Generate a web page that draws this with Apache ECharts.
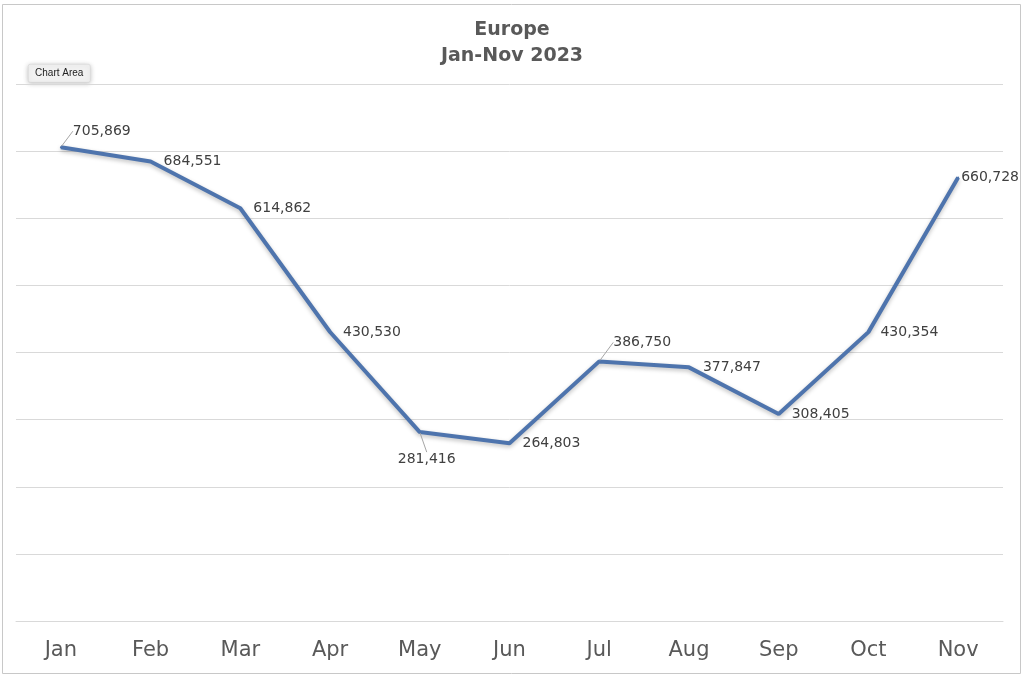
<!DOCTYPE html>
<html>
<head>
<meta charset="utf-8">
<script src="https://cdn.jsdelivr.net/npm/echarts@6/dist/echarts.min.js"></script>
<style>
html,body{margin:0;padding:0;background:#fff;}
#c{width:1024px;height:679px;}
</style>
</head>
<body>
<div id="c"></div>
<script>
const titleLines = ['Europe', 'Jan-Nov 2023'];
const months = ['Jan','Feb','Mar','Apr','May','Jun','Jul','Aug','Sep','Oct','Nov'];
const sales = [705869, 684551, 614862, 430530, 281416, 264803, 386750, 377847, 308405, 430354, 660728];
const yTicks = [0, 100000, 200000, 300000, 400000, 500000, 600000, 700000, 800000];

// label placement tweaks (style only)
const leaderMoves = {0: [6, -16], 4: [-28, 27], 6: [8, -19]};
const labelDist = [10, 12, 12, 12, 10, 12, 10, 13, 12, 11, 2];

const chart = echarts.init(document.getElementById('c'), null, {renderer: 'canvas'});

const data = sales.map((v, i) => {
  const item = {value: v, label: {distance: labelDist[i]}};
  if (leaderMoves[i]) {
    item.labelLine = {show: true};
    item.label.distance = 5;
  }
  return item;
});

chart.setOption({
  backgroundColor: '#ffffff',
  animation: false,
  title: {
    text: titleLines.join('\n'),
    left: 'center',
    top: 12,
    textStyle: {fontFamily: 'DejaVu Sans', fontSize: 19, fontWeight: 'bold', color: '#595959', lineHeight: 26}
  },
  grid: {left: 16, right: 21, top: 84, bottom: 58, containLabel: false},
  xAxis: {
    type: 'category',
    data: months,
    boundaryGap: true,
    axisLine: {show: true, lineStyle: {color: '#d9d9d9', width: 1}},
    axisTick: {show: false},
    axisLabel: {fontFamily: 'DejaVu Sans', fontSize: 21, color: '#595959', margin: 19}
  },
  yAxis: {
    type: 'value',
    min: yTicks[0],
    max: yTicks[yTicks.length - 1],
    interval: yTicks[1] - yTicks[0],
    axisLabel: {show: false},
    axisLine: {show: false},
    axisTick: {show: false},
    splitLine: {lineStyle: {color: '#d9d9d9', width: 1}}
  },
  series: [{
    type: 'line',
    data: data,
    showSymbol: true,
    symbol: 'circle',
    symbolSize: 2,
    itemStyle: {color: '#4e74ad'},
    lineStyle: {color: '#4e74ad', width: 4, shadowColor: 'rgba(0,0,0,0.25)', shadowBlur: 4, shadowOffsetY: 2},
    label: {
      show: true,
      position: 'right',
      fontFamily: 'DejaVu Sans',
      fontSize: 14,
      color: '#404040',
      formatter: p => p.value.toLocaleString('en-US')
    },
    labelLine: {show: false, lineStyle: {color: '#a6a6a6', width: 1}},
    labelLayout: function (p) {
      const m = leaderMoves[p.dataIndex];
      if (m) return {dx: m[0], dy: m[1]};
      return {};
    }
  }],
  graphic: [
    {type: 'rect', left: 0, top: 2, shape: {width: 1018, height: 669}, style: {fill: 'none', stroke: '#c8c8c8', lineWidth: 1}, silent: true},
    {type: 'group', left: 28, top: 64, children: [
      {type: 'rect', shape: {x: 0, y: 0, width: 62, height: 18, r: 2}, style: {fill: '#f2f2f2', stroke: '#d0d0d0', lineWidth: 0.5, shadowColor: 'rgba(0,0,0,0.25)', shadowBlur: 5, shadowOffsetY: 1}},
      {type: 'text', x: 31, y: 9, style: {text: 'Chart Area', fontFamily: 'Liberation Sans', fontSize: 10, fill: '#222', align: 'center', verticalAlign: 'middle'}}
    ]}
  ]
});
</script>
</body>
</html>
